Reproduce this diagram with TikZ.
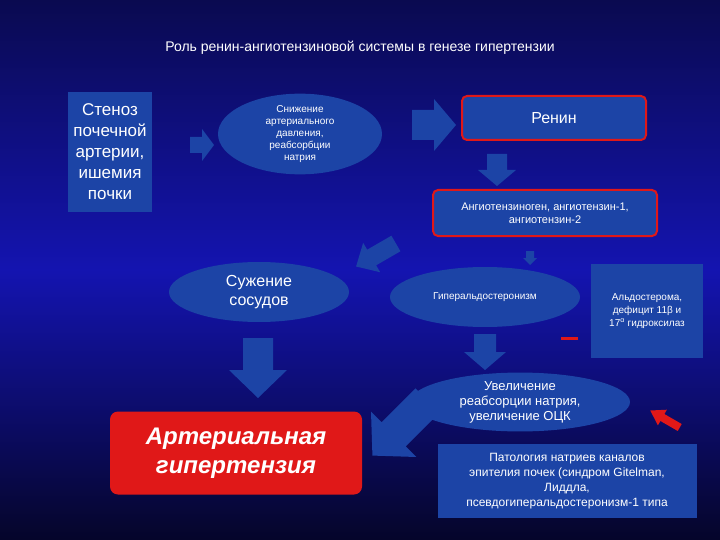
\documentclass[tikz,border=0pt]{standalone}
\usepackage{fontspec}
\setmainfont{Liberation Sans}
\usetikzlibrary{shapes.geometric}
\definecolor{bgtop}{HTML}{0A0A50}
\definecolor{bgmid}{HTML}{1414B0}
\definecolor{bgbot}{HTML}{05052A}
\definecolor{shp}{HTML}{1C44A6}
\definecolor{redb}{HTML}{E01818}
\newcommand\fatarr[9]{%
 \begin{scope}[shift={(#2,#3)},rotate=#4]
 \coordinate (#1) at (0,0);
 \fill[#9] ({-#5/2},{-#6/2}) -- ({#5/2-#8},{-#6/2}) -- ({#5/2-#8},{-#7/2}) -- ({#5/2},0)
   -- ({#5/2-#8},{#7/2}) -- ({#5/2-#8},{#6/2}) -- ({-#5/2},{#6/2}) -- cycle;
 \end{scope}}
\begin{document}
\begin{tikzpicture}[x=1pt,y=-1pt,
  blk/.style={fill=shp,draw=none,text=white,align=center,inner sep=2pt},
  ell/.style={ellipse,fill=shp,text=white,align=center,inner sep=0pt}]
\shade[top color=bgtop,bottom color=bgbot,middle color=bgmid] (0,0) rectangle (720,540);
\useasboundingbox (0,0) rectangle (720,540);
\fatarr{a8}{400}{428}{225}{78}{34}{64}{30}{shp}
\node[text=white,font=\fontsize{14}{16}\selectfont] (title) at (360,48) {Роль ренин-ангиотензиновой системы в генезе гипертензии};
\node[blk,minimum width=84pt,minimum height=120pt,font=\fontsize{17}{21}\selectfont] (sten) at (110,152) {Стеноз\\почечной\\артерии,\\ишемия\\почки};
\node[ell,minimum width=164pt,minimum height=76pt,font=\fontsize{10}{12}\selectfont] (sniz) at (300,134) {Снижение\\артериального\\давления,\\реабсорбции\\натрия};
\node[blk,rounded corners=5pt,draw=redb,line width=2pt,minimum width=184pt,minimum height=44pt,font=\fontsize{16}{19}\selectfont] (renin) at (554,118) {Ренин};
\node[blk,rounded corners=5pt,draw=redb,line width=2pt,minimum width=224pt,minimum height=46pt,font=\fontsize{11}{13}\selectfont] (ang) at (545,213) {Ангиотензиноген, ангиотензин-1,\\ангиотензин-2};
\node[ell,minimum width=180pt,minimum height=60pt,font=\fontsize{16}{19}\selectfont] (suz) at (259,292) {Сужение\\сосудов};
\node[ell,minimum width=190pt,minimum height=60pt,font=\fontsize{10}{12}\selectfont] (hyp) at (485,297) {Гиперальдостеронизм};
\node[blk,minimum width=112pt,minimum height=94pt,font=\fontsize{10}{13}\selectfont] (ald) at (647,311) {Альдостерома,\\дефицит 11β и\\17\textsuperscript{α} гидроксилаз};
\node[ell,minimum width=220pt,minimum height=56pt,font=\fontsize{13}{15}\selectfont] (uvel) at (520,402) {Увеличение\\реабсорции натрия,\\увеличение ОЦК};
\node[blk,fill=redb,rounded corners=8pt,minimum width=252pt,minimum height=83pt,font=\fontsize{24}{29}\selectfont\bfseries\itshape] (ag) at (236,453) {Артериальная\\гипертензия};
\node[blk,minimum width=259pt,minimum height=74pt,font=\fontsize{12}{15}\selectfont] (pat) at (567,481) {Патология натриев каналов\\эпителия почек (синдром Gitelman,\\Лиддла,\\псевдогиперальдостеронизм-1 типа};
% arrows
\fatarr{a1}{202}{145}{0}{24}{16}{32}{12}{shp}
\fatarr{a2}{434}{125}{0}{44}{30}{52}{22}{shp}
\fatarr{a3}{497}{170}{-90}{32}{20}{38}{16}{shp}
\fatarr{a4}{376}{255}{210}{46}{18}{34}{18}{shp}
\fatarr{a5}{530}{258}{-90}{14}{8}{14}{7}{shp}
\fatarr{a6}{258}{368}{-90}{60}{30}{58}{28}{shp}
\fatarr{a7}{485}{352}{-90}{36}{22}{42}{18}{shp}
\fatarr{a9}{665}{419}{150}{34}{8}{18}{14}{redb}
\coordinate (m1) at (561,338); \coordinate (m2) at (578,338);
\draw[redb,line width=3pt] (m1) -- (m2);
\end{tikzpicture}
\end{document}
